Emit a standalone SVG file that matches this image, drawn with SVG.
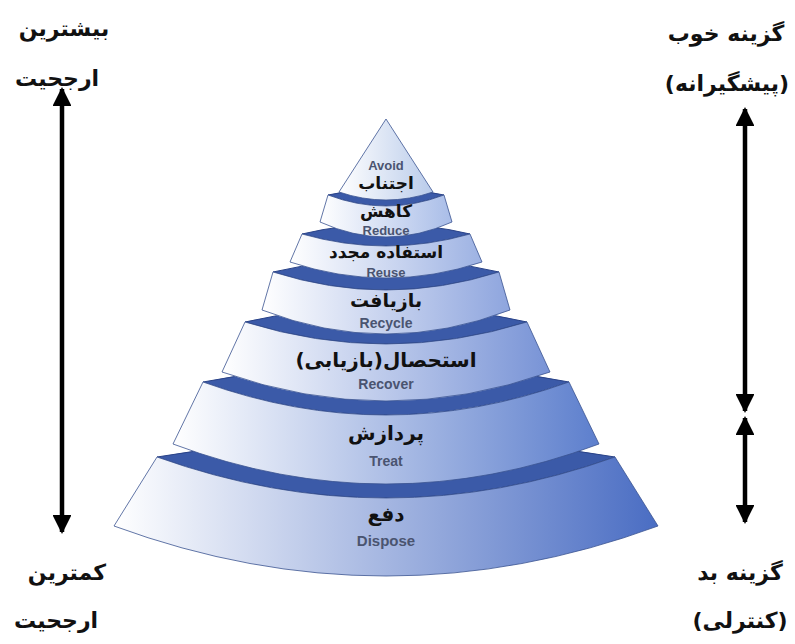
<svg xmlns="http://www.w3.org/2000/svg" width="795" height="644" viewBox="0 0 795 644">
<style>
.face{fill:#3b5aa8;stroke:#2a4388;stroke-width:1}
.front{stroke:#3a5390;stroke-width:0.8}
.fa{font-family:'DejaVu Sans',sans-serif;font-weight:bold;fill:#111;text-anchor:middle}
.en{font-family:'Liberation Sans',Arial,sans-serif;font-weight:bold;fill:#4a5470;text-anchor:middle}
.side{font-family:'DejaVu Sans',sans-serif;font-weight:bold;fill:#111;text-anchor:middle;font-size:22px}
.arr{stroke:#000;stroke-width:4.5;fill:none}
</style>
<defs>
<linearGradient id="g1" x1="0" y1="0" x2="1" y2="0"><stop offset="0" stop-color="#ffffff"/><stop offset="1" stop-color="#b9cbea"/></linearGradient>
<linearGradient id="g2" x1="0" y1="0" x2="1" y2="0"><stop offset="0" stop-color="#ffffff"/><stop offset="1" stop-color="#a9bde8"/></linearGradient>
<linearGradient id="g3" x1="0" y1="0" x2="1" y2="0"><stop offset="0" stop-color="#ffffff"/><stop offset="1" stop-color="#9db2e3"/></linearGradient>
<linearGradient id="g4" x1="0" y1="0" x2="1" y2="0"><stop offset="0" stop-color="#ffffff"/><stop offset="1" stop-color="#8ea5de"/></linearGradient>
<linearGradient id="g5" x1="0" y1="0" x2="1" y2="0"><stop offset="0" stop-color="#ffffff"/><stop offset="1" stop-color="#7893d6"/></linearGradient>
<linearGradient id="g6" x1="0" y1="0" x2="1" y2="0"><stop offset="0" stop-color="#ffffff"/><stop offset="1" stop-color="#5d7fcd"/></linearGradient>
<linearGradient id="g7" x1="0" y1="0" x2="1" y2="0"><stop offset="0" stop-color="#ffffff"/><stop offset="1" stop-color="#4a6dc3"/></linearGradient>
<marker id="ah" viewBox="0 0 10 10" refX="9" refY="5" markerWidth="4.4" markerHeight="4.2" orient="auto" markerUnits="strokeWidth"><path d="M0,0 L10,5 L0,10 Z" fill="#000"/></marker>
</defs>

<g id="dispose">
<path class="face" d="M157,457 Q386,417 615,457 Q386,539 157,457 Z"/>
<path class="front" fill="url(#g7)" d="M157,457 Q386,539 615,457 L658,526 Q386,626 114,526 Z"/>
<text class="fa" x="386" y="521" font-size="20">دفع</text>
<text class="en" x="386" y="546" font-size="15">Dispose</text>
</g>
<g id="treat">
<path class="face" d="M203,382 Q386,346 569,382 Q386,448 203,382 Z"/>
<path class="front" fill="url(#g6)" d="M203,382 Q386,448 569,382 L599,444 Q386,524 173,444 Z"/>
<text class="fa" x="386" y="440" font-size="20">پردازش</text>
<text class="en" x="386" y="466" font-size="14">Treat</text>
</g>
<g id="recover">
<path class="face" d="M245,322 Q386,290 527,322 Q386,366 245,322 Z"/>
<path class="front" fill="url(#g5)" d="M245,322 Q386,366 527,322 L550,372 Q386,430 222,372 Z"/>
<text class="fa" x="386" y="367" font-size="20">استحصال(بازیابی)</text>
<text class="en" x="386" y="389" font-size="14">Recover</text>
</g>
<g id="recycle">
<path class="face" d="M273,272 Q386,246 499,272 Q386,308 273,272 Z"/>
<path class="front" fill="url(#g4)" d="M273,272 Q386,308 499,272 L510,310 Q386,358 262,310 Z"/>
<text class="fa" x="386" y="307" font-size="19">بازیافت</text>
<text class="en" x="386" y="328" font-size="14">Recycle</text>
</g>
<g id="reuse">
<path class="face" d="M302,234 Q386,214 470,234 Q386,258 302,234 Z"/>
<path class="front" fill="url(#g3)" d="M302,234 Q386,258 470,234 L482,262 Q386,294 290,262 Z"/>
<text class="fa" x="386" y="258" font-size="17">استفاده مجدد</text>
<text class="en" x="386" y="277" font-size="13">Reuse</text>
</g>
<g id="reduce">
<path class="face" d="M328,195 Q386,181 444,195 Q386,217 328,195 Z"/>
<path class="front" fill="url(#g2)" d="M328,195 Q386,217 444,195 L452,222 Q386,252 320,222 Z"/>
<text class="fa" x="386" y="217" font-size="17">کاهش</text>
<text class="en" x="386" y="235" font-size="13">Reduce</text>
</g>
<g id="avoid">
<path class="front" fill="url(#g1)" d="M386,119 L433,192 Q386,208 339,192 Z"/>
<text class="en" x="386" y="170" font-size="13">Avoid</text>
<text class="fa" x="386" y="189" font-size="17">اجتناب</text>
</g>

<g id="connectors">
<line class="arr" x1="62" y1="310" x2="62" y2="89" marker-end="url(#ah)"/>
<line class="arr" x1="62" y1="310" x2="62" y2="532" marker-end="url(#ah)"/>
<line class="arr" x1="745" y1="260" x2="745" y2="109" marker-end="url(#ah)"/>
<line class="arr" x1="745" y1="260" x2="745" y2="411" marker-end="url(#ah)"/>
<line class="arr" x1="745" y1="470" x2="745" y2="418" marker-end="url(#ah)"/>
<line class="arr" x1="745" y1="470" x2="745" y2="522" marker-end="url(#ah)"/>
</g>

<g id="labels">
<text class="side" x="64" y="36">بیشترین</text>
<text class="side" x="57" y="86">ارجحیت</text>
<text class="side" x="67" y="580">کمترین</text>
<text class="side" x="56" y="628">ارجحیت</text>
<text class="side" x="726" y="41">گزینه خوب</text>
<text class="side" x="727" y="91">(پیشگیرانه)</text>
<text class="side" x="740" y="580">گزینه بد</text>
<text class="side" x="740" y="628">(کنترلی)</text>
</g>
</svg>
